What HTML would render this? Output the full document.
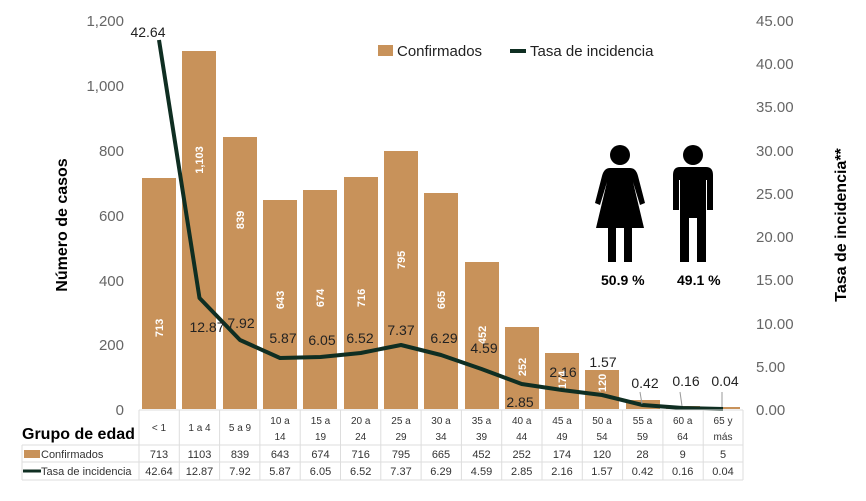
<!DOCTYPE html>
<html><head><meta charset="utf-8"><style>
body{margin:0;background:#fff;}
svg{display:block;font-family:"Liberation Sans",sans-serif;}
</style></head><body>
<svg width="866" height="501" viewBox="0 0 866 501">
<g font-size="15" fill="#666" text-anchor="end">
<text x="124" y="26">1,200</text><text x="124" y="91">1,000</text><text x="124" y="156">800</text><text x="124" y="221">600</text><text x="124" y="286">400</text><text x="124" y="350">200</text><text x="124" y="415">0</text>
</g>
<g font-size="15" fill="#666">
<text x="756" y="26">45.00</text><text x="756" y="69">40.00</text><text x="756" y="112">35.00</text><text x="756" y="156">30.00</text><text x="756" y="199">25.00</text><text x="756" y="242">20.00</text><text x="756" y="285">15.00</text><text x="756" y="329">10.00</text><text x="756" y="372">5.00</text><text x="756" y="415">0.00</text>
</g>
<text transform="translate(67,225) rotate(-90)" text-anchor="middle" font-size="16" font-weight="bold" fill="#000">Número de casos</text>
<text transform="translate(846,225) rotate(-90)" text-anchor="middle" font-size="16" font-weight="bold" fill="#000">Tasa de incidencia**</text>
<g fill="#c8925a">
<rect x="142" y="178" width="34" height="231"/>
<rect x="182" y="51" width="34" height="358"/>
<rect x="223" y="137" width="34" height="272"/>
<rect x="263" y="200" width="34" height="209"/>
<rect x="303" y="190" width="34" height="219"/>
<rect x="344" y="177" width="34" height="232"/>
<rect x="384" y="151" width="34" height="258"/>
<rect x="424" y="193" width="34" height="216"/>
<rect x="465" y="262" width="34" height="147"/>
<rect x="505" y="327" width="34" height="82"/>
<rect x="545" y="353" width="34" height="56"/>
<rect x="585" y="370" width="34" height="39"/>
<rect x="626" y="400" width="34" height="9"/>
<rect x="666" y="406" width="34" height="3"/>
<rect x="706" y="407" width="34" height="2"/>
</g>
<g font-size="11" font-weight="bold" fill="#fff" text-anchor="middle">
<text transform="translate(163,328) rotate(-90)">713</text>
<text transform="translate(203,160) rotate(-90)">1,103</text>
<text transform="translate(244,220) rotate(-90)">839</text>
<text transform="translate(284,300) rotate(-90)">643</text>
<text transform="translate(324,298) rotate(-90)">674</text>
<text transform="translate(365,298) rotate(-90)">716</text>
<text transform="translate(405,260) rotate(-90)">795</text>
<text transform="translate(445,300) rotate(-90)">665</text>
<text transform="translate(486,335) rotate(-90)">452</text>
<text transform="translate(526,367) rotate(-90)">252</text>
<text transform="translate(566,380) rotate(-90)">174</text>
<text transform="translate(606,383) rotate(-90)">120</text>
</g>
<polyline fill="none" stroke="#0f2e22" stroke-width="4" stroke-linejoin="round" points="159,40 199.5,298 240,340 280,358 320.5,357 360.7,353 401,345 441,355 481.5,369 521.7,384 562,390 602,395 642.5,405 682.7,408 723,409"/>
<g stroke="#999" stroke-width="1">
<line x1="640" y1="392" x2="642" y2="404"/><line x1="680" y1="392" x2="682" y2="406"/><line x1="722" y1="392" x2="722" y2="407"/>
</g>
<g font-size="14" fill="#222" text-anchor="middle">
<text x="148" y="37">42.64</text><text x="207" y="332">12.87</text><text x="241" y="328">7.92</text><text x="283" y="343">5.87</text><text x="322" y="345">6.05</text><text x="360" y="343">6.52</text><text x="401" y="335">7.37</text><text x="444" y="343">6.29</text><text x="484" y="353">4.59</text><text x="520" y="407">2.85</text><text x="563" y="377">2.16</text><text x="603" y="367">1.57</text><text x="645" y="388">0.42</text><text x="686" y="386">0.16</text><text x="725" y="386">0.04</text>
</g>
<rect x="378" y="45" width="15" height="11" fill="#c8925a"/>
<text x="397" y="56" font-size="15" fill="#222">Confirmados</text>
<line x1="510" y1="51" x2="526" y2="51" stroke="#0f2e22" stroke-width="4"/>
<text x="530" y="56" font-size="15" fill="#222">Tasa de incidencia</text>
<g fill="#000">
<circle cx="620" cy="155" r="10"/>
<path d="M610,168 L630,168 Q636,168 638,176 L645,203 L640,205 L633,182 L644,228 L632,228 L632,262 L624,262 L624,228 L616,228 L616,262 L608,262 L608,228 L596,228 L607,182 L600,205 L595,203 L602,176 Q604,168 610,168Z"/>
<circle cx="693" cy="155" r="10"/>
<path d="M680,167 L706,167 Q713,167 713,175 L713,210 L707,210 L707,180 L706,180 L706,262 L697,262 L697,218 L689,218 L689,262 L680,262 L680,180 L679,180 L679,210 L673,210 L673,175 Q673,167 680,167Z"/>
</g>
<text x="601" y="285" font-size="14" font-weight="bold" fill="#000">50.9 %</text>
<text x="677" y="285" font-size="14" font-weight="bold" fill="#000">49.1 %</text>
<g stroke="#ddd" stroke-width="1" fill="none">
<line x1="139" y1="410" x2="743" y2="410"/>
<line x1="22" y1="445" x2="743" y2="445"/>
<line x1="22" y1="462" x2="743" y2="462"/>
<line x1="22" y1="480" x2="743" y2="480"/>
<line x1="22" y1="445" x2="22" y2="480"/>
<line x1="139" y1="410" x2="139" y2="480"/><line x1="179.3" y1="410" x2="179.3" y2="480"/><line x1="219.6" y1="410" x2="219.6" y2="480"/><line x1="259.9" y1="410" x2="259.9" y2="480"/><line x1="300.2" y1="410" x2="300.2" y2="480"/><line x1="340.5" y1="410" x2="340.5" y2="480"/><line x1="380.8" y1="410" x2="380.8" y2="480"/><line x1="421.1" y1="410" x2="421.1" y2="480"/><line x1="461.4" y1="410" x2="461.4" y2="480"/><line x1="501.7" y1="410" x2="501.7" y2="480"/><line x1="542" y1="410" x2="542" y2="480"/><line x1="582.3" y1="410" x2="582.3" y2="480"/><line x1="622.6" y1="410" x2="622.6" y2="480"/><line x1="662.9" y1="410" x2="662.9" y2="480"/><line x1="703.2" y1="410" x2="703.2" y2="480"/><line x1="743" y1="410" x2="743" y2="480"/>
</g>
<text x="22" y="439" font-size="16" font-weight="bold" fill="#000">Grupo de edad</text>
<rect x="24" y="450" width="16" height="8" fill="#c8925a"/>
<text x="41" y="458" font-size="11" fill="#333">Confirmados</text>
<line x1="23" y1="471" x2="41" y2="471" stroke="#0f2e22" stroke-width="3"/>
<text x="41" y="475" font-size="11" fill="#333">Tasa de incidencia</text>
<g font-size="10" fill="#333" text-anchor="middle">
<text x="159" y="431">&lt; 1</text><text x="199.5" y="431">1 a 4</text><text x="240" y="431">5 a 9</text>
<text x="280" y="424">10 a</text><text x="280" y="440">14</text>
<text x="320.5" y="424">15 a</text><text x="320.5" y="440">19</text>
<text x="360.7" y="424">20 a</text><text x="360.7" y="440">24</text>
<text x="401" y="424">25 a</text><text x="401" y="440">29</text>
<text x="441" y="424">30 a</text><text x="441" y="440">34</text>
<text x="481.5" y="424">35 a</text><text x="481.5" y="440">39</text>
<text x="521.7" y="424">40 a</text><text x="521.7" y="440">44</text>
<text x="562" y="424">45 a</text><text x="562" y="440">49</text>
<text x="602" y="424">50 a</text><text x="602" y="440">54</text>
<text x="642.5" y="424">55 a</text><text x="642.5" y="440">59</text>
<text x="682.7" y="424">60 a</text><text x="682.7" y="440">64</text>
<text x="723" y="424">65 y</text><text x="723" y="440">más</text>
</g>
<g font-size="11" fill="#333" text-anchor="middle">
<text x="159" y="458">713</text><text x="199.5" y="458">1103</text><text x="240" y="458">839</text><text x="280" y="458">643</text><text x="320.5" y="458">674</text><text x="360.7" y="458">716</text><text x="401" y="458">795</text><text x="441" y="458">665</text><text x="481.5" y="458">452</text><text x="521.7" y="458">252</text><text x="562" y="458">174</text><text x="602" y="458">120</text><text x="642.5" y="458">28</text><text x="682.7" y="458">9</text><text x="723" y="458">5</text>
<text x="159" y="475">42.64</text><text x="199.5" y="475">12.87</text><text x="240" y="475">7.92</text><text x="280" y="475">5.87</text><text x="320.5" y="475">6.05</text><text x="360.7" y="475">6.52</text><text x="401" y="475">7.37</text><text x="441" y="475">6.29</text><text x="481.5" y="475">4.59</text><text x="521.7" y="475">2.85</text><text x="562" y="475">2.16</text><text x="602" y="475">1.57</text><text x="642.5" y="475">0.42</text><text x="682.7" y="475">0.16</text><text x="723" y="475">0.04</text>
</g>
</svg>
</body></html>
